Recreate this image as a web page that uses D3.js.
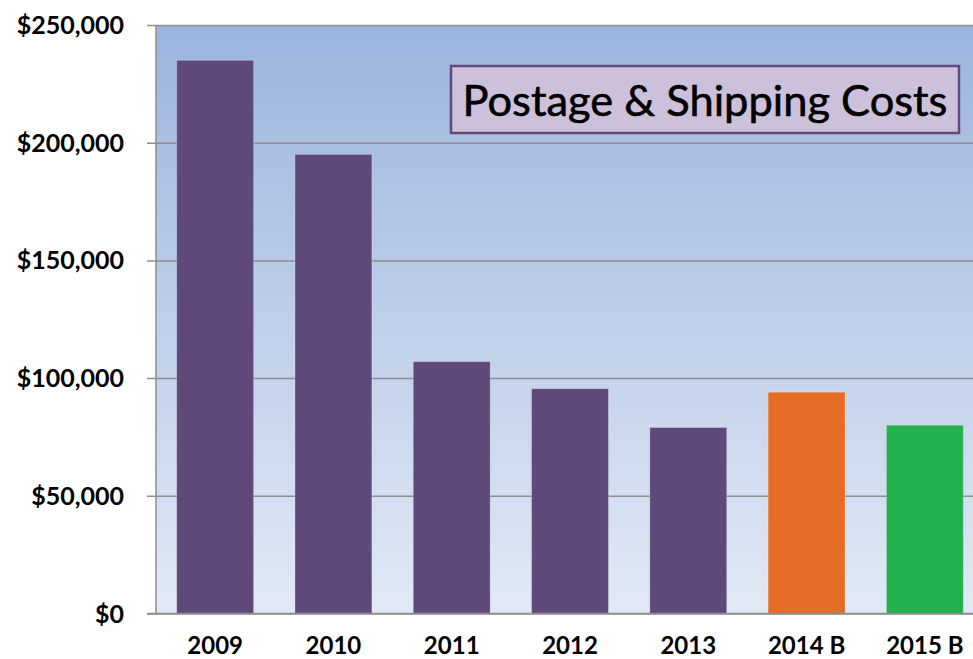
<!DOCTYPE html>
<html><head><meta charset="utf-8">
<script src="https://cdn.jsdelivr.net/npm/d3@7"></script>
<style>html,body{margin:0;padding:0;background:#fff;overflow:hidden}</style>
</head><body>
<svg id="chart" width="973" height="659"></svg>
<script>
const categories = ["2009","2010","2011","2012","2013","2014 B","2015 B"];
const values = [235000, 195000, 107000, 95500, 79000, 94000, 80000];
const barColors = ["#5F497A","#5F497A","#5F497A","#5F497A","#5F497A","#E56C25","#22B14C"];
const yTicks = [0, 50000, 100000, 150000, 200000, 250000];
const title = "Postage & Shipping Costs";

const svg = d3.select("#chart");
const plotLeft = 156, plotTop = 25, plotBottom = 613.5, plotW = 828;
const x = d3.scaleBand().domain(categories).range([plotLeft, plotLeft + plotW]).paddingInner(0.35).paddingOuter(0.175);
const y = d3.scaleLinear().domain([0, 250000]).range([plotBottom, plotTop]);

const defs = svg.append("defs");
const g = defs.append("linearGradient").attr("id","bg").attr("x1",0).attr("y1",0).attr("x2",0).attr("y2",1);
g.append("stop").attr("offset","0%").attr("stop-color","#9BB4DE");
g.append("stop").attr("offset","100%").attr("stop-color","#E1E9F5");

svg.append("rect").attr("x", plotLeft).attr("y", plotTop).attr("width", plotW).attr("height", plotBottom - plotTop).attr("fill","url(#bg)");

const fmt = d => "$" + d3.format(",")(d);
const yAxis = d3.axisLeft(y).tickValues(yTicks).tickSize(-(plotW + 9)).tickFormat(fmt).tickPadding(23);
const ya = svg.append("g").attr("transform", `translate(${plotLeft - 9},0)`).call(yAxis);
ya.select(".domain").remove();
ya.selectAll(".tick line").attr("stroke","#8E8E8E").attr("stroke-width",1.5);
ya.selectAll(".tick text").attr("font-family","Lato, sans-serif").attr("font-weight","bold").attr("font-size","25px").attr("fill","#000").attr("dy","0.34em");

svg.append("line").attr("x1", plotLeft).attr("x2", plotLeft).attr("y1", plotTop).attr("y2", plotBottom).attr("stroke","#8E8E8E").attr("stroke-width",1.5);

svg.append("g").selectAll("rect").data(categories).join("rect")
  .attr("x", d => x(d)).attr("width", x.bandwidth())
  .attr("y", (d,i) => y(values[i])).attr("height", (d,i) => plotBottom - y(values[i]))
  .attr("fill", (d,i) => barColors[i])
  .attr("stroke","#ffffff").attr("stroke-opacity",0.25).attr("stroke-width",1);

svg.append("line").attr("x1", plotLeft - 9).attr("x2", plotLeft + plotW).attr("y1", plotBottom).attr("y2", plotBottom).attr("stroke","#8E8E8E").attr("stroke-width",1.5);

const xAxis = d3.axisBottom(x).tickSize(0).tickPadding(0);
const xa = svg.append("g").attr("transform", `translate(0,${plotBottom})`).call(xAxis);
xa.select(".domain").remove();
xa.selectAll(".tick text").attr("font-family","Lato, sans-serif").attr("font-weight","bold").attr("font-size","24px").attr("fill","#000").attr("dy","0").attr("y", 40);

svg.append("rect").attr("x",451).attr("y",66).attr("width",508).attr("height",67).attr("fill","#CCC0DA").attr("stroke","#604A7B").attr("stroke-width",2.5);
const t = svg.append("text").attr("x",705).attr("y",116).attr("text-anchor","middle")
  .attr("font-family","Lato, sans-serif").attr("font-size","43px").attr("fill","#000")
  .attr("stroke","#000").attr("stroke-width",0.6).text(title);
const w = t.node().getComputedTextLength();
if (w > 0) t.attr("font-size", (43 * 485 / w) + "px");
</script>
</body></html>
